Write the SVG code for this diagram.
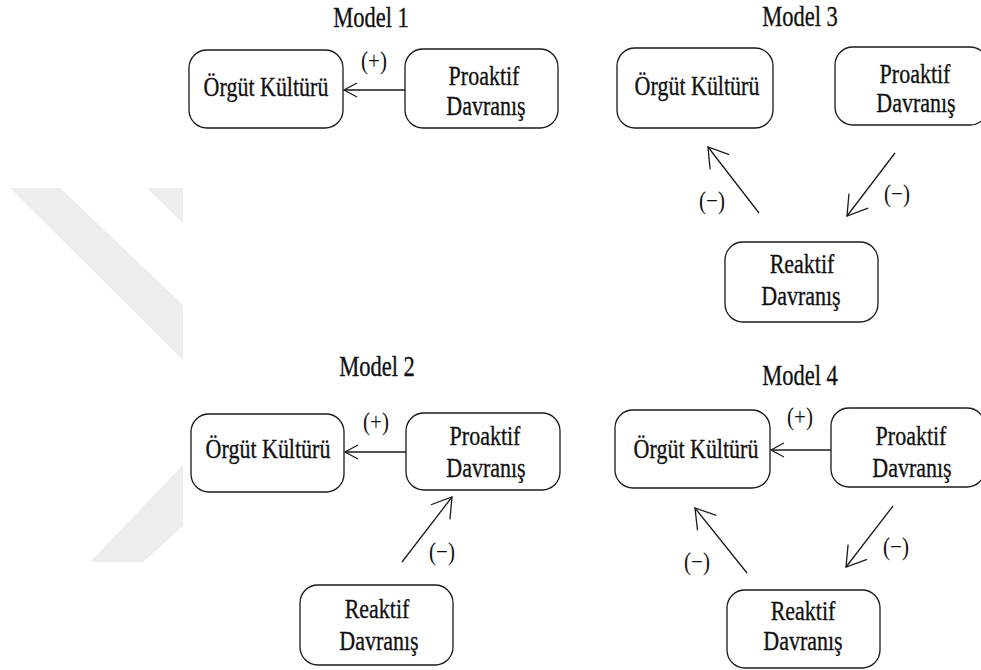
<svg xmlns="http://www.w3.org/2000/svg" width="981" height="670" viewBox="0 0 981 670">
  <defs>
    <style>
      .bg { fill: #ffffff; }
      .mark { fill: #ededed; }
      .box { fill: #ffffff; stroke: #1a1a1a; stroke-width: 1.3; }
      .t { font-family: "Liberation Serif", "Times New Roman", serif; font-size: 22px; fill: #111111; stroke: #111111; stroke-width: 0.25; text-anchor: middle; }
      .ttl { font-family: "Liberation Serif", "Times New Roman", serif; font-size: 22.5px; fill: #111111; stroke: #111111; stroke-width: 0.25; text-anchor: middle; }
      .sg { font-family: "Liberation Serif", "Times New Roman", serif; font-size: 21px; fill: #111111; text-anchor: middle; }
      .edge { fill: none; stroke: #1a1a1a; stroke-width: 1.3; }
      .edge-h { marker-end: url(#head-sm); }
      .edge-d { marker-end: url(#head-lg); }
    </style>
    <marker id="head-sm" markerUnits="userSpaceOnUse" viewBox="-16 -9 18 18" markerWidth="18" markerHeight="18" refX="0" refY="0" orient="auto">
      <path d="M-13,-7 L0,0 L-13,7" fill="none" stroke="#1a1a1a" stroke-width="1.3"/>
    </marker>
    <marker id="head-lg" markerUnits="userSpaceOnUse" viewBox="-22 -14 24 28" markerWidth="24" markerHeight="28" refX="0" refY="0" orient="auto">
      <path d="M-19,-12 L0,0 L-19,12" fill="none" stroke="#1a1a1a" stroke-width="1.3"/>
    </marker>
  </defs>

  <rect class="bg" x="0" y="0" width="981" height="670"/>

  <!-- pale background emblem fragment on the left -->
  <g id="emblem">
    <polygon class="mark" points="10,188 60,188 183,305 183,360"/>
    <polygon class="mark" points="147,188 183,188 183,223"/>
    <polygon class="mark" points="183,465 183,526 143,562 90,562"/>
  </g>

  <!-- titles -->
  <g id="titles">
    <text class="ttl" transform="translate(371,27) scale(1,1.28)">Model 1</text>
    <text class="ttl" transform="translate(800,26) scale(1,1.28)">Model 3</text>
    <text class="ttl" transform="translate(377,376) scale(1,1.28)">Model 2</text>
    <text class="ttl" transform="translate(800,385) scale(1,1.28)">Model 4</text>
  </g>

  <!-- connectors -->
  <g id="connectors">
    <!-- Model 1 -->
    <line class="edge edge-h" x1="405" y1="90" x2="344" y2="90"/>
    <!-- Model 3 -->
    <line class="edge edge-d" x1="759" y1="213" x2="708" y2="147"/>
    <line class="edge edge-d" x1="895" y1="153" x2="847" y2="216"/>
    <!-- Model 2 -->
    <line class="edge edge-h" x1="406" y1="452" x2="345" y2="452"/>
    <line class="edge edge-d" x1="402" y1="562" x2="452" y2="497"/>
    <!-- Model 4 -->
    <line class="edge edge-h" x1="831" y1="450" x2="771" y2="450"/>
    <line class="edge edge-d" x1="747" y1="573" x2="695" y2="508"/>
    <line class="edge edge-d" x1="893" y1="506" x2="846" y2="567"/>
  </g>

  <!-- connector signs -->
  <g id="signs">
    <text class="sg" transform="translate(374,69) scale(1,1.2)">(+)</text>
    <text class="sg" transform="translate(712,209) scale(1,1.2)">(−)</text>
    <text class="sg" transform="translate(897,202) scale(1,1.2)">(−)</text>
    <text class="sg" transform="translate(376,430) scale(1,1.2)">(+)</text>
    <text class="sg" transform="translate(442,560) scale(1,1.2)">(−)</text>
    <text class="sg" transform="translate(800,425) scale(1,1.2)">(+)</text>
    <text class="sg" transform="translate(697,570) scale(1,1.2)">(−)</text>
    <text class="sg" transform="translate(896,555) scale(1,1.2)">(−)</text>
  </g>

  <!-- Model 1 nodes -->
  <g id="m1-orgut">
    <rect class="box" x="189" y="50" width="154" height="78" rx="18"/>
    <text class="t" transform="translate(266,96) scale(1,1.28)">Örgüt Kültürü</text>
  </g>
  <g id="m1-proaktif">
    <rect class="box" x="405" y="49" width="153" height="79" rx="18"/>
    <text class="t" transform="translate(484,85) scale(1,1.28)">Proaktif</text>
    <text class="t" transform="translate(486,115) scale(1,1.28)">Davranış</text>
  </g>

  <!-- Model 3 nodes -->
  <g id="m3-orgut">
    <rect class="box" x="617" y="48" width="156" height="80" rx="18"/>
    <text class="t" transform="translate(697,95) scale(1,1.28)">Örgüt Kültürü</text>
  </g>
  <g id="m3-proaktif">
    <rect class="box" x="835" y="47" width="153" height="78" rx="18"/>
    <text class="t" transform="translate(915,83) scale(1,1.28)">Proaktif</text>
    <text class="t" transform="translate(916,112) scale(1,1.28)">Davranış</text>
  </g>
  <g id="m3-reaktif">
    <rect class="box" x="725" y="242" width="153" height="80" rx="18"/>
    <text class="t" transform="translate(802,273) scale(1,1.28)">Reaktif</text>
    <text class="t" transform="translate(801,305) scale(1,1.28)">Davranış</text>
  </g>

  <!-- Model 2 nodes -->
  <g id="m2-orgut">
    <rect class="box" x="191" y="414" width="153" height="78" rx="18"/>
    <text class="t" transform="translate(268,458) scale(1,1.28)">Örgüt Kültürü</text>
  </g>
  <g id="m2-proaktif">
    <rect class="box" x="406" y="413" width="154" height="77" rx="18"/>
    <text class="t" transform="translate(485,445) scale(1,1.28)">Proaktif</text>
    <text class="t" transform="translate(486,477) scale(1,1.28)">Davranış</text>
  </g>
  <g id="m2-reaktif">
    <rect class="box" x="300" y="585" width="153" height="80" rx="18"/>
    <text class="t" transform="translate(377,618) scale(1,1.28)">Reaktif</text>
    <text class="t" transform="translate(379,650) scale(1,1.28)">Davranış</text>
  </g>

  <!-- Model 4 nodes -->
  <g id="m4-orgut">
    <rect class="box" x="615" y="410" width="155" height="78" rx="18"/>
    <text class="t" transform="translate(696,458) scale(1,1.28)">Örgüt Kültürü</text>
  </g>
  <g id="m4-proaktif">
    <rect class="box" x="831" y="408" width="154" height="79" rx="18"/>
    <text class="t" transform="translate(911,445) scale(1,1.28)">Proaktif</text>
    <text class="t" transform="translate(912,477) scale(1,1.28)">Davranış</text>
  </g>
  <g id="m4-reaktif">
    <rect class="box" x="727" y="590" width="153" height="78" rx="18"/>
    <text class="t" transform="translate(803,620) scale(1,1.28)">Reaktif</text>
    <text class="t" transform="translate(803,650) scale(1,1.28)">Davranış</text>
  </g>
</svg>
